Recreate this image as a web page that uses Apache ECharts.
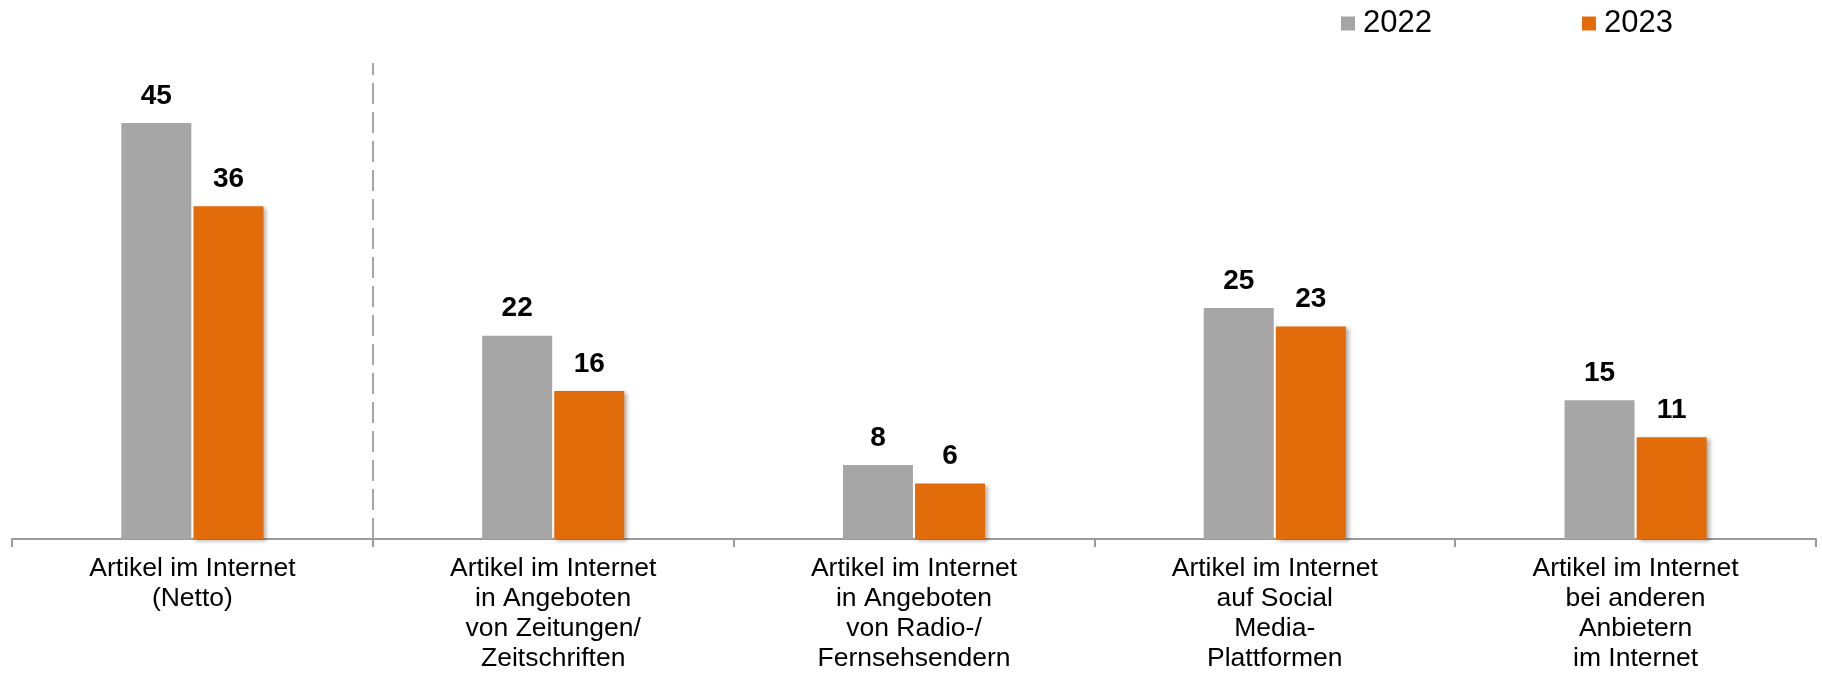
<!DOCTYPE html>
<html>
<head>
<meta charset="utf-8">
<script src="https://cdn.jsdelivr.net/npm/echarts@6/dist/echarts.min.js"></script>
<style>html,body{margin:0;padding:0;background:#fff}#c{width:1822px;height:674px}</style>
</head>
<body>
<div id="c"></div>
<script>
const categories = [
  "Artikel im Internet\n(Netto)",
  "Artikel im Internet\nin Angeboten\nvon Zeitungen/\nZeitschriften",
  "Artikel im Internet\nin Angeboten\nvon Radio-/\nFernsehsendern",
  "Artikel im Internet\nauf Social\nMedia-\nPlattformen",
  "Artikel im Internet\nbei anderen\nAnbietern\nim Internet"
];
const seriesNames = ["2022", "2023"];
const values2022 = [45, 22, 8, 25, 15];
const values2023 = [36, 16, 6, 23, 11];
// separator after the first category (boundary position in category units)
const separatorAt = [1];

const FONT = "'Liberation Sans', Arial, sans-serif";
const chart = echarts.init(document.getElementById('c'), null, {renderer: 'canvas'});
chart.setOption({
  animation: false,
  backgroundColor: '#ffffff',
  textStyle: {fontFamily: FONT},
  legend: {
    data: seriesNames,
    left: 1341,
    top: 8,
    padding: 0,
    icon: 'rect',
    itemWidth: 14,
    itemHeight: 14,
    itemGap: 150,
    textStyle: {fontSize: 31, color: '#000', fontFamily: FONT, padding: [0, 0, 0, 3]}
  },
  grid: {left: 12, right: 6, top: 63, bottom: 135, containLabel: false},
  xAxis: [
    {
      type: 'category',
      data: categories,
      axisLine: {show: true, lineStyle: {color: '#9A9A9A', width: 2}},
      axisTick: {show: true, length: 8, lineStyle: {color: '#9A9A9A', width: 2}},
      axisLabel: {fontSize: 26.5, lineHeight: 30, color: '#000', margin: 15, interval: 0, fontFamily: FONT},
      splitLine: {show: false}
    },
    {
      type: 'value',
      min: 0,
      max: categories.length,
      show: false,
      splitLine: {show: false}
    }
  ],
  yAxis: {
    type: 'value',
    min: 0,
    max: 51.5,
    show: false,
    splitLine: {show: false}
  },
  series: [
    {
      name: seriesNames[0],
      type: 'bar',
      data: values2022,
      barWidth: 70,
      barGap: '3%',
      itemStyle: {color: '#A6A6A6'},
      label: {show: true, position: 'top', distance: 13, fontSize: 28, fontWeight: 'bold', color: '#000', fontFamily: FONT}
    },
    {
      name: seriesNames[1],
      type: 'bar',
      data: values2023,
      barWidth: 70,
      barGap: '3%',
      itemStyle: {color: '#E36C0A', shadowColor: 'rgba(0,0,0,0.3)', shadowBlur: 4, shadowOffsetX: 3, shadowOffsetY: 2},
      label: {show: true, position: 'top', distance: 13, fontSize: 28, fontWeight: 'bold', color: '#000', fontFamily: FONT}
    },
    {
      name: 'separator',
      type: 'line',
      xAxisIndex: 1,
      yAxisIndex: 0,
      data: [],
      silent: true,
      markLine: {
        silent: true,
        symbol: 'none',
        label: {show: false},
        lineStyle: {color: '#A6A6A6', width: 2, type: [21, 8]},
        data: separatorAt.map(v => ({xAxis: v}))
      }
    }
  ]
});
</script>
</body>
</html>
